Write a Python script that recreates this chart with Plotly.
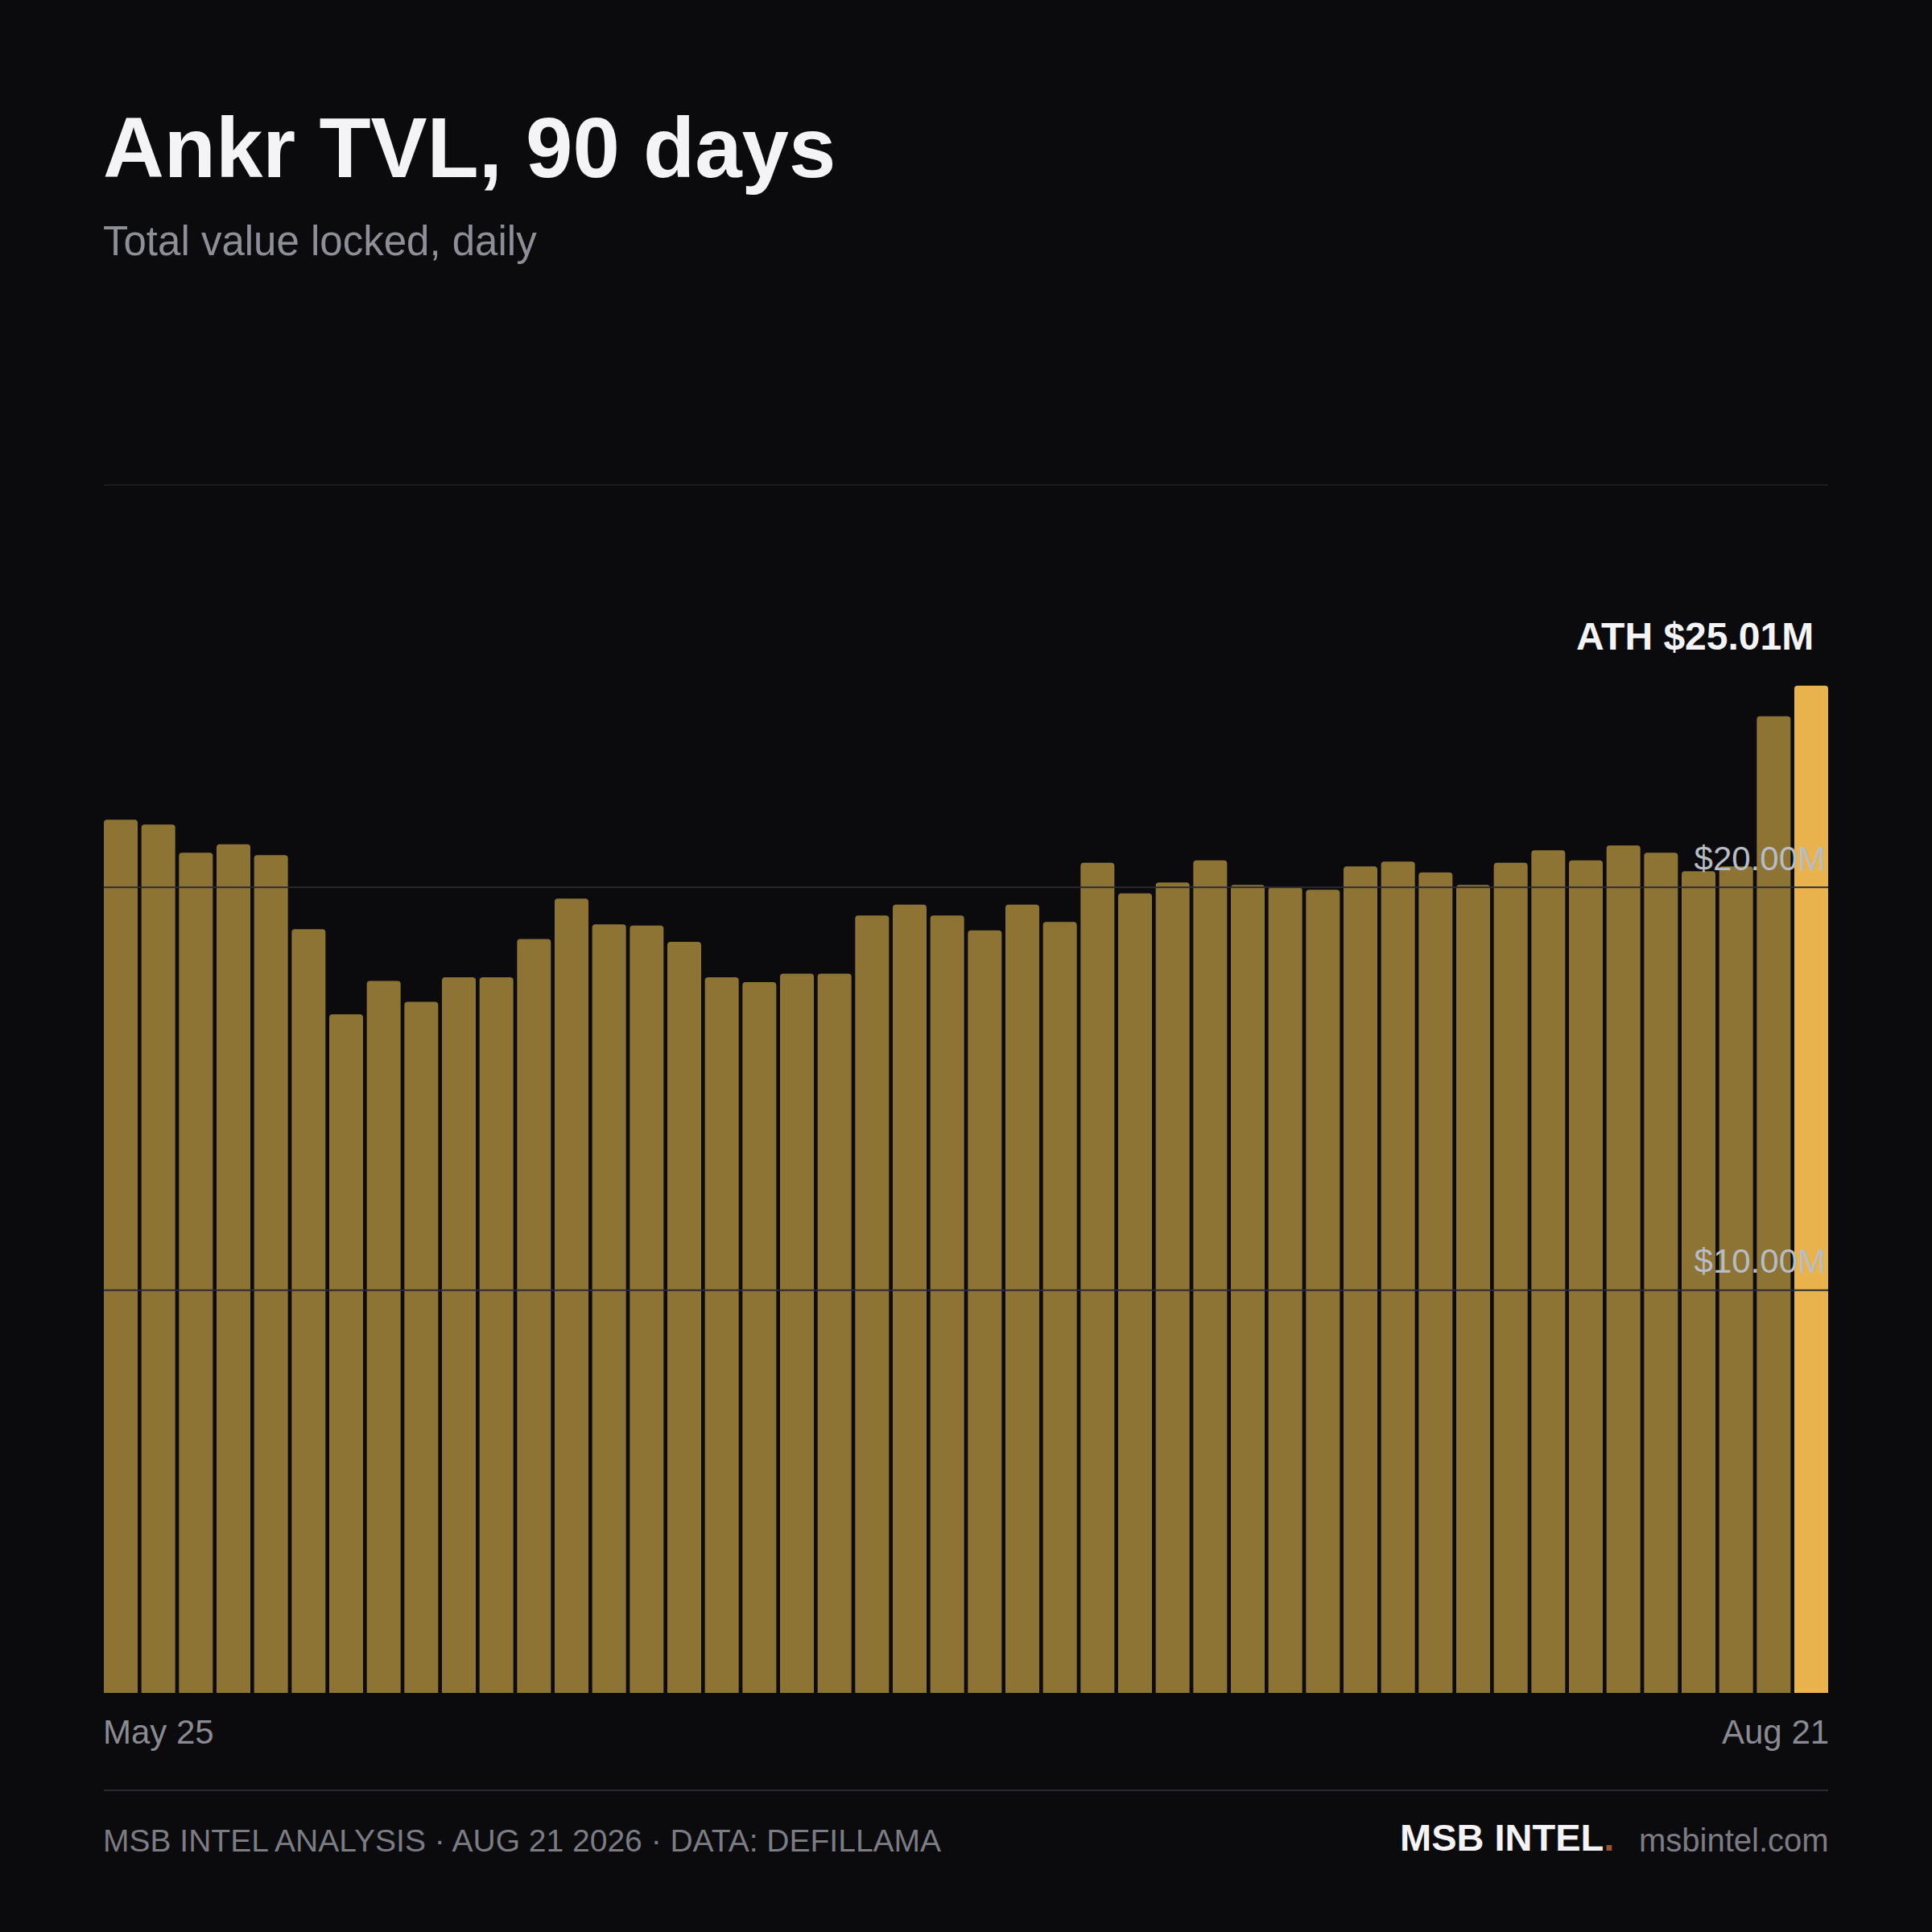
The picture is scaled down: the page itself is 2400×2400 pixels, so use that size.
import plotly.graph_objects as go

# daily TVL, $M
tvl = [21.68, 21.56, 20.86, 21.07, 20.80, 18.96, 16.85, 17.68, 17.16, 17.77,
       17.77, 18.72, 19.72, 19.08, 19.05, 18.65, 17.77, 17.65, 17.86, 17.86,
       19.30, 19.57, 19.30, 18.93, 19.57, 19.14, 20.61, 19.85, 20.12, 20.67,
       20.06, 20.00, 19.94, 20.52, 20.64, 20.37, 20.06, 20.61, 20.92, 20.67,
       21.04, 20.86, 20.40, 20.52, 24.25, 25.01]
days = list(range(len(tvl)))
x_labels = ["May 25", "Aug 21"]
y_ticks = [10, 20]
y_grid = [10, 20, 30]
ath = max(tvl)

BG = "#0b0b0d"
BAR = "#8d7434"
HI = "#e8b24c"
GRID = "#2a2a30"
FONT = "Liberation Sans"

# pixel layout of the 2400x2400 canvas
W = H = 2400
L, R, T, B = 129, 129, 602, 297
ph = H - T - B
GAP = 0.1


def py(px):
    # canvas pixel row -> paper y
    return (H - B - px) / ph


bar_colors = [BAR] * (len(tvl) - 1) + [HI]

fig = go.Figure()
fig.add_trace(go.Bar(x=days, y=tvl, marker=dict(color=bar_colors, cornerradius=4, line_width=0),
                     hoverinfo="skip"))

for g in y_grid:
    fig.add_shape(type="line", xref="paper", x0=0, x1=1, yref="y", y0=g, y1=g,
                  line=dict(color=GRID, width=2), layer="above")

# footer separator
fig.add_shape(type="line", xref="paper", x0=0, x1=1, yref="paper", y0=py(2224), y1=py(2224),
              line=dict(color=GRID, width=2))

ann = []
ann.append(dict(text="<b>Ankr TVL, 90 days</b>", x=0, xshift=-3, y=py(244), xanchor="left",
                yanchor="bottom", font=dict(size=105, color="#f4f4f6")))
ann.append(dict(text="Total value locked, daily", x=0, xshift=-3, y=py(330), xanchor="left",
                yanchor="bottom", font=dict(size=51, color="#8e8e96")))
ann.append(dict(text=x_labels[0], x=0, xshift=-3, y=py(2177), xanchor="left", yanchor="bottom",
                font=dict(size=42, color="#8a8a92")))
ann.append(dict(text=x_labels[1], x=1, xshift=3, y=py(2177), xanchor="right", yanchor="bottom",
                font=dict(size=42, color="#8a8a92")))
ann.append(dict(text="MSB INTEL ANALYSIS · AUG 21 2026 · DATA: DEFILLAMA", x=0, xshift=-3,
                y=py(2310), xanchor="left", yanchor="bottom", font=dict(size=39, color="#7c7c84")))
ann.append(dict(text="msbintel.com", x=1, xshift=3, y=py(2310), xanchor="right", yanchor="bottom",
                font=dict(size=40, color="#7c7c84")))
ann.append(dict(text="<b>MSB INTEL</b><span style='color:#9a5530'><b>.</b></span>", x=1, xshift=-264,
                y=py(2311), xanchor="right", yanchor="bottom", font=dict(size=47, color="#f4f4f6")))
for a in ann:
    a.update(xref="paper", yref="paper", showarrow=False)
    fig.add_annotation(**a)

fig.add_annotation(text=f"<b>ATH ${ath:.2f}M</b>", xref="paper", x=1, xshift=-16, yref="y", y=ath,
                   yanchor="bottom", xanchor="right", yshift=33, showarrow=False,
                   font=dict(size=48, color="#f4f4f6"))

fig.update_layout(
    width=W, height=H,
    paper_bgcolor=BG, plot_bgcolor=BG,
    margin=dict(l=L, r=R, t=T, b=B),
    showlegend=False,
    bargap=GAP,
    font=dict(family=FONT),
    xaxis=dict(range=[-0.5 + GAP / 2, len(tvl) - 0.5 - GAP / 2], showticklabels=False,
               showgrid=False, zeroline=False, showline=False, ticks=""),
    yaxis=dict(range=[0, 30], side="right", tickvals=y_ticks,
               ticktext=[f"${v:.2f}M" for v in y_ticks],
               ticklabelposition="inside top", ticklabelshift=-7, layer="above traces",
               tickfont=dict(size=42, color="#b8bcc4"), showgrid=False, zeroline=False,
               showline=False, ticks=""),
)

fig.write_html("out.html", config={"displayModeBar": False},
               post_script="document.body.style.margin='0';")
